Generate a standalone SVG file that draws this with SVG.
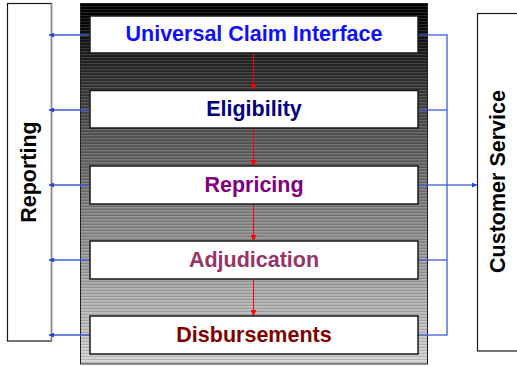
<svg xmlns="http://www.w3.org/2000/svg" width="517" height="366" viewBox="0 0 517 366">
  <style>
    .stage { fill: #ffffff; stroke: #1a1a1a; stroke-width: 1.5; }
    .label { font-family: "Liberation Sans", Arial, sans-serif; font-weight: bold; font-size: 21.5px; text-anchor: middle; }
    .side { fill: #ffffff; stroke: #1a1a1a; stroke-width: 1.2; }
    .blue { stroke: #3a5bd9; stroke-width: 1.3; fill: none; }
    .red { stroke: #ff0000; stroke-width: 1; fill: none; }
  </style>
  <defs>
    <linearGradient id="panelShade" x1="0" y1="0" x2="0" y2="1">
      <stop offset="0" stop-color="#000000"/>
      <stop offset="0.06" stop-color="#080808"/>
      <stop offset="0.18" stop-color="#2a2a2a"/>
      <stop offset="0.35" stop-color="#545454"/>
      <stop offset="0.55" stop-color="#7e7e7e"/>
      <stop offset="0.75" stop-color="#a2a2a2"/>
      <stop offset="1" stop-color="#d4d4d4"/>
    </linearGradient>
    <pattern id="stripes" patternUnits="userSpaceOnUse" width="8" height="3">
      <rect x="0" y="0" width="8" height="1" fill="#ffffff" fill-opacity="0.14"/>
      <rect x="0" y="2" width="8" height="1" fill="#000000" fill-opacity="0.14"/>
    </pattern>
    <marker id="headBlue" viewBox="0 0 10 10" refX="10" refY="5" markerWidth="5" markerHeight="5" markerUnits="userSpaceOnUse" orient="auto">
      <path d="M0,0 L10,5 L0,10 z" fill="#2244dd"/>
    </marker>
    <marker id="headRed" viewBox="0 0 10 10" refX="10" refY="5" markerWidth="7" markerHeight="6" markerUnits="userSpaceOnUse" orient="auto">
      <path d="M0,0 L10,5 L0,10 z" fill="#ff0000"/>
    </marker>
  </defs>

  <!-- shaded backdrop behind the processing stages -->
  <g id="panel">
    <rect x="80.5" y="3.5" width="347" height="360.5" fill="url(#panelShade)"/>
    <rect x="80.5" y="3.5" width="347" height="360.5" fill="url(#stripes)"/>
    <rect x="80.5" y="3.5" width="347" height="360.5" fill="none" stroke="#222" stroke-width="1"/>
  </g>

  <!-- side columns -->
  <g id="reporting">
    <rect class="side" x="7.5" y="3.5" width="44" height="337.5"/>
    <line x1="51.5" y1="3.5" x2="51.5" y2="341" stroke="#888" stroke-width="1.5"/>
    <text class="label" fill="#000000" transform="translate(36,172) rotate(-90)">Reporting</text>
  </g>
  <g id="customer-service">
    <rect class="side" x="477.5" y="13.5" width="50" height="337.5" stroke="#444"/>
    <text class="label" fill="#000000" transform="translate(505,181.5) rotate(-90)">Customer Service</text>
  </g>

  <!-- connectors -->
  <g id="connectors">
    <!-- stage flow -->
    <line class="red" x1="253.5" y1="53" x2="253.5" y2="90" marker-end="url(#headRed)"/>
    <line class="red" x1="253.5" y1="128" x2="253.5" y2="166" marker-end="url(#headRed)"/>
    <line class="red" x1="253.5" y1="204" x2="253.5" y2="241" marker-end="url(#headRed)"/>
    <line class="red" x1="253.5" y1="279" x2="253.5" y2="316" marker-end="url(#headRed)"/>
    <!-- feeds to reporting -->
    <line class="blue" x1="90" y1="35" x2="49" y2="35" marker-end="url(#headBlue)"/>
    <line class="blue" x1="90" y1="110" x2="49" y2="110" marker-end="url(#headBlue)"/>
    <line class="blue" x1="90" y1="185" x2="49" y2="185" marker-end="url(#headBlue)"/>
    <line class="blue" x1="90" y1="260" x2="49" y2="260" marker-end="url(#headBlue)"/>
    <line class="blue" x1="90" y1="335" x2="49" y2="335" marker-end="url(#headBlue)"/>
    <!-- bus to customer service -->
    <line class="blue" x1="418" y1="35" x2="447" y2="35"/>
    <line class="blue" x1="418" y1="110" x2="447" y2="110"/>
    <line class="blue" x1="418" y1="185" x2="447" y2="185"/>
    <line class="blue" x1="418" y1="260" x2="447" y2="260"/>
    <line class="blue" x1="418" y1="335" x2="447" y2="335"/>
    <line class="blue" x1="447" y1="34.4" x2="447" y2="335.6"/>
    <line class="blue" x1="447" y1="185" x2="477" y2="185" marker-end="url(#headBlue)"/>
  </g>

  <!-- processing stages -->
  <g id="universal-claim-interface">
    <rect class="stage" x="90" y="16" width="328" height="37"/>
    <text class="label" x="254" y="41" fill="#1010ff">Universal Claim Interface</text>
  </g>
  <g id="eligibility">
    <rect class="stage" x="90" y="90.5" width="328" height="37.5"/>
    <text class="label" x="254" y="116" fill="#000080">Eligibility</text>
  </g>
  <g id="repricing">
    <rect class="stage" x="90" y="166" width="328" height="38"/>
    <text class="label" x="254" y="192" fill="#800080">Repricing</text>
  </g>
  <g id="adjudication">
    <rect class="stage" x="90" y="241" width="328" height="38"/>
    <text class="label" x="254" y="266.5" fill="#993366">Adjudication</text>
  </g>
  <g id="disbursements">
    <rect class="stage" x="90" y="316" width="328" height="38"/>
    <text class="label" x="254" y="341.5" fill="#800000">Disbursements</text>
  </g>
</svg>
